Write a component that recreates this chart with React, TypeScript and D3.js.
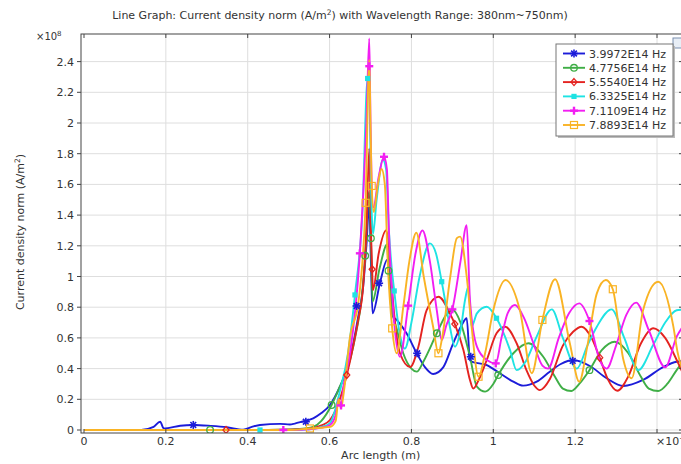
import * as d3 from 'd3';

// x in units of 1e-7 m, y in units of 1e8 A/m^2
const seriesNames = ['3.9972E14 Hz', '4.7756E14 Hz', '5.5540E14 Hz', '6.3325E14 Hz', '7.1109E14 Hz', '7.8893E14 Hz'];
const seriesColors = ['#1c1cd9', '#3fae46', '#e42320', '#1ee3e3', '#f21ef2', '#f9b324'];
const markerKinds = ['star', 'circle', 'diamond', 'fsquare', 'plus', 'square'];

const blue: [number, number][] = [
  [0, 0], [0.14, 0], [0.17, 0.02], [0.186, 0.054], [0.195, 0.01], [0.205, 0.012], [0.235, 0.028], [0.267, 0.033],
  [0.31, 0.027], [0.349, 0.018], [0.389, 0.002], [0.41, 0.02], [0.43, 0.033], [0.479, 0.04], [0.503, 0.036],
  [0.515, 0.042], [0.532, 0.054], [0.56, 0.076], [0.58, 0.11], [0.601, 0.163], [0.625, 0.28], [0.642, 0.39],
  [0.658, 0.565], [0.67, 0.738], [0.682, 0.934], [0.69, 1.2], [0.697, 1.47], [0.701, 1.1], [0.705, 0.76],
  [0.723, 0.956], [0.741, 1.11], [0.745, 1.05], [0.752, 0.75], [0.764, 0.717], [0.788, 0.63], [0.813, 0.5],
  [0.833, 0.41], [0.853, 0.365], [0.878, 0.41], [0.902, 0.565], [0.923, 0.684], [0.935, 0.728], [0.943, 0.456],
  [0.947, 0.445], [0.984, 0.423], [1.016, 0.37], [1.049, 0.315], [1.073, 0.289], [1.106, 0.315], [1.138, 0.38],
  [1.165, 0.43], [1.195, 0.456], [1.236, 0.417], [1.277, 0.337], [1.318, 0.287], [1.366, 0.326], [1.415, 0.41],
  [1.448, 0.445], [1.47, 0.45],
];
const green: [number, number][] = [
  [0, 0], [0.45, 0], [0.5, 0.003], [0.54, 0.01], [0.56, 0.02], [0.58, 0.06], [0.605, 0.163], [0.625, 0.282],
  [0.65, 0.456], [0.666, 0.651], [0.678, 0.847], [0.687, 1.135], [0.696, 1.55], [0.701, 1.249], [0.705, 0.836],
  [0.722, 1.05], [0.741, 1.21], [0.744, 1.038], [0.752, 0.8], [0.765, 0.65], [0.78, 0.5], [0.8, 0.4],
  [0.813, 0.38], [0.83, 0.45], [0.862, 0.63], [0.885, 0.75], [0.902, 0.78], [0.92, 0.7], [0.943, 0.477],
  [0.96, 0.282], [0.98, 0.25], [1.0, 0.3], [1.012, 0.358], [1.049, 0.5], [1.086, 0.565], [1.122, 0.477],
  [1.15, 0.35], [1.17, 0.27], [1.191, 0.254], [1.21, 0.3], [1.235, 0.39], [1.265, 0.52], [1.297, 0.575],
  [1.33, 0.5], [1.36, 0.35], [1.38, 0.27], [1.403, 0.254], [1.425, 0.3], [1.448, 0.39], [1.47, 0.47],
];
const red: [number, number][] = [
  [0, 0], [0.45, 0], [0.55, 0.008], [0.58, 0.03], [0.601, 0.065], [0.625, 0.2], [0.642, 0.358], [0.658, 0.55],
  [0.67, 0.717], [0.682, 0.934], [0.69, 1.3], [0.697, 1.835], [0.701, 1.3], [0.704, 1.047], [0.706, 0.912],
  [0.72, 1.15], [0.738, 1.3], [0.745, 1.2], [0.752, 0.934], [0.772, 0.5], [0.797, 0.41], [0.817, 0.543],
  [0.837, 0.78], [0.866, 0.868], [0.894, 0.76], [0.906, 0.69], [0.927, 0.521], [0.943, 0.326], [0.951, 0.27],
  [0.965, 0.33], [0.984, 0.456], [1.008, 0.63], [1.029, 0.673], [1.057, 0.565], [1.081, 0.39], [1.1, 0.29],
  [1.114, 0.26], [1.138, 0.33], [1.17, 0.55], [1.195, 0.64], [1.216, 0.673], [1.24, 0.6], [1.26, 0.471],
  [1.28, 0.33], [1.303, 0.256], [1.33, 0.35], [1.36, 0.56], [1.391, 0.663], [1.42, 0.6], [1.452, 0.434],
  [1.47, 0.33],
];
const cyan: [number, number][] = [
  [0, 0], [0.5, 0], [0.55, 0.005], [0.58, 0.02], [0.601, 0.045], [0.625, 0.25], [0.645, 0.5], [0.662, 0.88],
  [0.68, 1.4], [0.693, 2.29], [0.697, 2.2], [0.702, 1.5], [0.706, 1.277], [0.715, 1.5], [0.73, 1.76],
  [0.738, 1.7], [0.745, 1.3], [0.752, 1.05], [0.758, 0.906], [0.77, 0.65], [0.784, 0.53], [0.8, 0.7],
  [0.82, 1.0], [0.845, 1.216], [0.86, 1.15], [0.874, 0.966], [0.894, 0.673], [0.906, 0.543], [0.92, 0.65],
  [0.931, 0.847], [0.939, 0.934], [0.947, 0.673], [0.96, 0.76], [0.984, 0.803], [1.008, 0.728], [1.041, 0.52],
  [1.057, 0.39], [1.08, 0.45], [1.106, 0.608], [1.143, 0.786], [1.17, 0.6], [1.204, 0.4], [1.23, 0.55],
  [1.253, 0.673], [1.289, 0.786], [1.32, 0.6], [1.354, 0.39], [1.39, 0.55], [1.42, 0.7], [1.448, 0.78],
  [1.47, 0.786],
];
const magenta: [number, number][] = [
  [0, 0], [0.5, 0], [0.55, 0.004], [0.58, 0.015], [0.601, 0.033], [0.615, 0.1], [0.622, 0.2], [0.628, 0.16],
  [0.635, 0.3], [0.65, 0.5], [0.674, 1.151], [0.69, 2.0], [0.697, 2.55], [0.7, 2.0], [0.707, 1.45],
  [0.72, 1.65], [0.733, 1.78], [0.74, 1.7], [0.745, 1.3], [0.755, 0.8], [0.772, 0.477], [0.792, 0.81],
  [0.81, 1.15], [0.827, 1.3], [0.845, 1.1], [0.862, 0.78], [0.874, 0.586], [0.885, 0.68], [0.9, 0.786],
  [0.92, 1.1], [0.935, 1.335], [0.943, 0.847], [0.96, 0.543], [0.984, 0.456], [1.006, 0.434], [1.02, 0.6],
  [1.035, 0.76], [1.053, 0.814], [1.075, 0.73], [1.1, 0.55], [1.12, 0.42], [1.134, 0.4], [1.16, 0.6],
  [1.185, 0.76], [1.21, 0.825], [1.235, 0.71], [1.26, 0.456], [1.277, 0.4], [1.3, 0.55], [1.325, 0.75],
  [1.349, 0.83], [1.38, 0.65], [1.42, 0.408], [1.448, 0.608], [1.47, 0.7],
];
const orange: [number, number][] = [
  [0, 0], [0.5, 0], [0.552, 0.01], [0.58, 0.015], [0.601, 0.02], [0.615, 0.06], [0.622, 0.2], [0.628, 0.14],
  [0.635, 0.25], [0.65, 0.608], [0.67, 0.825], [0.688, 1.48], [0.697, 2.41], [0.7, 2.0], [0.703, 1.59],
  [0.708, 1.42], [0.718, 1.6], [0.727, 1.7], [0.735, 1.6], [0.742, 1.1], [0.753, 0.662], [0.764, 0.5],
  [0.78, 0.8], [0.795, 1.1], [0.812, 1.285], [0.83, 1.0], [0.853, 0.673], [0.866, 0.5], [0.875, 0.6],
  [0.895, 1.0], [0.911, 1.25], [0.919, 1.26], [0.935, 1.0], [0.947, 0.673], [0.964, 0.347], [0.98, 0.5],
  [1.0, 0.78], [1.03, 0.977], [1.065, 0.78], [1.094, 0.37], [1.12, 0.717], [1.151, 0.982], [1.187, 0.565],
  [1.21, 0.315], [1.23, 0.55], [1.253, 0.89], [1.275, 0.977], [1.292, 0.917], [1.318, 0.456], [1.338, 0.337],
  [1.366, 0.78], [1.403, 0.966], [1.44, 0.673], [1.45, 0.51], [1.47, 0.35],
];

// marker positions
const blueMarks: [number, number][] = [[0.267, 0.033], [0.542, 0.054], [0.666, 0.808], [0.721, 0.956], [0.814, 0.5], [0.945, 0.477], [1.194, 0.45]];
const greenMarks: [number, number][] = [[0.308, 0], [0.605, 0.163], [0.687, 1.135], [0.701, 1.249], [0.744, 1.038], [0.862, 0.63], [1.012, 0.358], [1.235, 0.39]];
const redMarks: [number, number][] = [[0.347, 0], [0.642, 0.358], [0.704, 1.047], [0.906, 0.69], [1.26, 0.471]];
const cyanMarks: [number, number][] = [[0.43, 0], [0.662, 0.88], [0.693, 2.29], [0.758, 0.906], [0.874, 0.966], [1.008, 0.728]];
const magentaMarks: [number, number][] = [[0.487, 0], [0.628, 0.16], [0.674, 1.151], [0.697, 2.37], [0.733, 1.78], [0.792, 0.81], [0.9, 0.786], [1.006, 0.434], [1.235, 0.71]];
const orangeMarks: [number, number][] = [[0.552, 0.01], [0.688, 1.48], [0.703, 1.59], [0.753, 0.662], [0.866, 0.5], [0.964, 0.347], [1.12, 0.717], [1.292, 0.917]];

const allSeries = [blue, green, red, cyan, magenta, orange];
const allMarks = [blueMarks, greenMarks, redMarks, cyanMarks, magentaMarks, orangeMarks];

const xTicks = [0, 0.2, 0.4, 0.6, 0.8, 1, 1.2];
const xTickLabels = ['0', '0.2', '0.4', '0.6', '0.8', '1', '1.2'];
const xGrid = [0.2, 0.4, 0.6, 0.8, 1, 1.2, 1.4];
const yTicks = [0, 0.2, 0.4, 0.6, 0.8, 1, 1.2, 1.4, 1.6, 1.8, 2, 2.2, 2.4];
const yTickLabels = ['0', '0.2', '0.4', '0.6', '0.8', '1', '1.2', '1.4', '1.6', '1.8', '2', '2.2', '2.4'];

const FONT = 'DejaVu Sans, sans-serif';
const TEXT = '#333';

function Marker({ kind, x, y, color }: { kind: string; x: number; y: number; color: string }) {
  if (kind === 'star') {
    const r = 4;
    const d = r * 0.72;
    return (
      <g stroke={color} strokeWidth={1.6}>
        <line x1={x - r} y1={y} x2={x + r} y2={y} />
        <line x1={x} y1={y - r} x2={x} y2={y + r} />
        <line x1={x - d} y1={y - d} x2={x + d} y2={y + d} />
        <line x1={x - d} y1={y + d} x2={x + d} y2={y - d} />
      </g>
    );
  }
  if (kind === 'circle') return <circle cx={x} cy={y} r={3.3} fill="none" stroke={color} strokeWidth={1.3} />;
  if (kind === 'diamond')
    return <path d={`M${x},${y - 3.5}L${x + 3},${y}L${x},${y + 3.5}L${x - 3},${y}Z`} fill="none" stroke={color} strokeWidth={1.3} />;
  if (kind === 'fsquare') return <rect x={x - 2.6} y={y - 2.6} width={5.2} height={5.2} fill={color} />;
  if (kind === 'plus')
    return (
      <g stroke={color} strokeWidth={2.4}>
        <line x1={x - 4} y1={y} x2={x + 4} y2={y} />
        <line x1={x} y1={y - 4} x2={x} y2={y + 4} />
      </g>
    );
  return <rect x={x - 3.5} y={y - 3.5} width={7} height={7} fill="none" stroke={color} strokeWidth={1.2} />;
}

export default function App() {
  const W = 681;
  const H = 464;
  const frame = { left: 81, right: 683, top: 34, bottom: 433 };

  const x = d3.scaleLinear().domain([0, 1.4]).range([84, 657]);
  const y = d3.scaleLinear().domain([0, 2.4]).range([430, 61.6]);

  const line = d3
    .line<[number, number]>()
    .x((d) => x(d[0]))
    .y((d) => y(d[1]))
    .curve(d3.curveMonotoneX);

  const legend = { x: 556, y: 44, w: 117, h: 92, row0: 53.5, step: 14.3 };

  return (
    <svg width={W} height={H} style={{ position: 'absolute', left: 0, top: 0, background: '#fff' }} fontFamily={FONT}>
      <defs>
        <clipPath id="plotClip">
          <rect x={frame.left} y={frame.top} width={frame.right - frame.left} height={frame.bottom - frame.top} />
        </clipPath>
      </defs>
      <rect width={W} height={H} fill="#fff" />

      {/* title */}
      <text x={340} y={19} textAnchor="middle" fontSize={11} fill={TEXT}>
        Line Graph: Current density norm (A/m<tspan dy={-4} fontSize={7.5}>2</tspan>
        <tspan dy={4}>) with Wavelength Range: 380nm~750nm)</tspan>
      </text>
      <rect x={673} y={38} width={9} height={10} fill="#e8eef6" stroke="#7a8fb0" strokeWidth={1} />

      {/* grid */}
      <g stroke="#dedede" strokeWidth={1}>
        {xGrid.map((v) => (
          <line key={`gx${v}`} x1={x(v)} x2={x(v)} y1={frame.top} y2={frame.bottom} />
        ))}
        {yTicks.map((v) => (
          <line key={`gy${v}`} x1={frame.left} x2={frame.right} y1={y(v)} y2={y(v)} />
        ))}
      </g>

      {/* series */}
      <g clipPath="url(#plotClip)">
        {allSeries.map((s, i) => (
          <path key={`s${i}`} d={line(s) || ''} fill="none" stroke={seriesColors[i]} strokeWidth={1.9} strokeLinejoin="round" />
        ))}
        {allMarks.map((ms, i) =>
          ms.map((m, j) => <Marker key={`m${i}-${j}`} kind={markerKinds[i]} x={x(m[0])} y={y(m[1])} color={seriesColors[i]} />)
        )}
      </g>

      {/* frame */}
      <rect x={frame.left} y={frame.top} width={frame.right - frame.left} height={frame.bottom - frame.top} fill="none" stroke="#444" strokeWidth={1} />
      <g stroke="#444" strokeWidth={1}>
        {yTicks.map((v) => (
          <line key={`ty${v}`} x1={frame.left - 4} x2={frame.left} y1={y(v)} y2={y(v)} />
        ))}
        {yTicks.map((v) => (
          <line key={`tyr${v}`} x1={frame.right - 4} x2={frame.right} y1={y(v)} y2={y(v)} />
        ))}
        {[0, ...xGrid].map((v) => (
          <line key={`tx${v}`} x1={x(v)} x2={x(v)} y1={frame.bottom} y2={frame.bottom - 4} />
        ))}
        {[0, ...xGrid].map((v) => (
          <line key={`txt${v}`} x1={x(v)} x2={x(v)} y1={frame.top} y2={frame.top + 4} />
        ))}
      </g>

      {/* y tick labels */}
      {yTicks.map((v, i) => (
        <text key={`ly${v}`} x={frame.left - 7} y={y(v) + 4} textAnchor="end" fontSize={11} fill={TEXT}>
          {yTickLabels[i]}
        </text>
      ))}
      <text x={36} y={40} fontSize={10} fill={TEXT}>
        ×10<tspan dy={-4} fontSize={7}>8</tspan>
      </text>

      {/* x tick labels */}
      {xTicks.map((v, i) => (
        <text key={`lx${v}`} x={x(v)} y={445} textAnchor="middle" fontSize={11} fill={TEXT}>
          {xTickLabels[i]}
        </text>
      ))}
      <text x={x(1.4) - 1} y={445} fontSize={11} fill={TEXT}>
        ×10<tspan dy={-4} fontSize={7.5}>−7</tspan>
      </text>

      {/* axis titles */}
      <text x={x(0.725)} y={459} textAnchor="middle" fontSize={11} fill={TEXT}>
        Arc length (m)
      </text>
      <text transform={`translate(24,${232}) rotate(-90)`} textAnchor="middle" fontSize={11} fill={TEXT}>
        Current density norm (A/m<tspan dy={-4} fontSize={7.5}>2</tspan>
        <tspan dy={4}>)</tspan>
      </text>

      {/* legend */}
      <rect x={legend.x + 2} y={legend.y + 2} width={legend.w} height={legend.h} fill="#bbb" />
      <rect x={legend.x} y={legend.y} width={legend.w} height={legend.h} fill="#fff" stroke="#777" strokeWidth={1} />
      {seriesNames.map((name, i) => {
        const ry = legend.row0 + i * legend.step;
        return (
          <g key={`lg${i}`}>
            <line x1={563} x2={585} y1={ry} y2={ry} stroke={seriesColors[i]} strokeWidth={1.9} />
            <Marker kind={markerKinds[i]} x={574} y={ry} color={seriesColors[i]} />
            <text x={589} y={ry + 4} fontSize={11} fill={TEXT}>
              {name}
            </text>
          </g>
        );
      })}
    </svg>
  );
}
